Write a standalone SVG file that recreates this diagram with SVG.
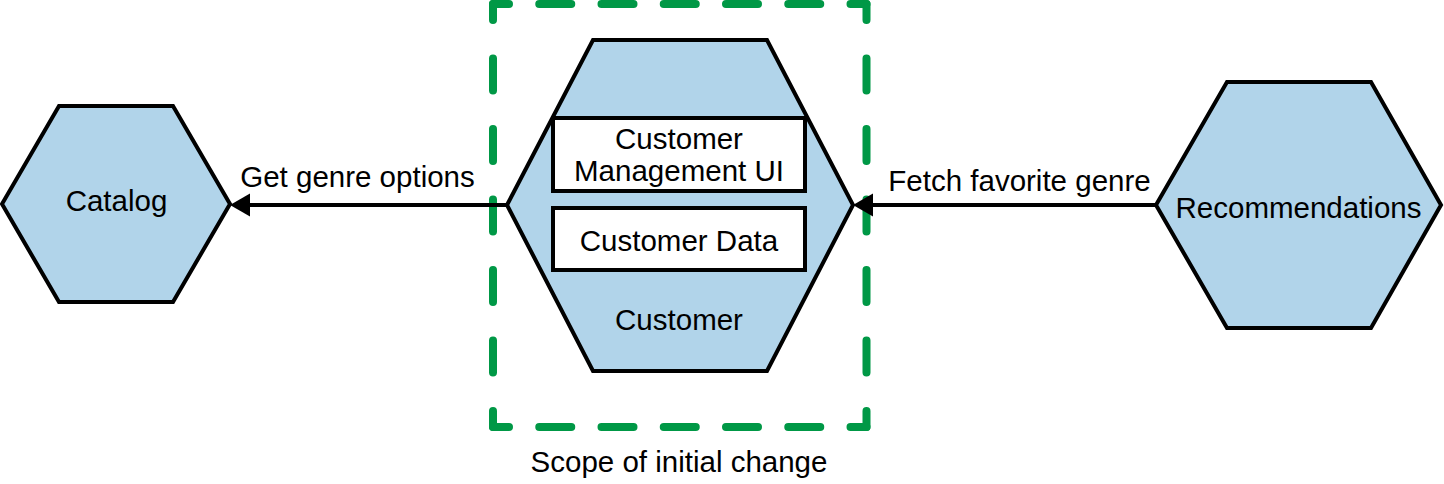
<svg xmlns="http://www.w3.org/2000/svg" width="1444" height="484" viewBox="0 0 1444 484">
<style>
.hex{fill:#b1d4ea;stroke:#000;stroke-width:4;stroke-linejoin:miter}
.box{fill:#fff;stroke:#000;stroke-width:4}
.t{font-family:"Liberation Sans",Arial,sans-serif;font-size:29.5px;fill:#000;text-anchor:middle}
.edge{stroke:#000;stroke-width:4;fill:none}
.scope{stroke:#009846;stroke-width:8;stroke-linecap:round;fill:none;stroke-dasharray:32 30.25;stroke-dashoffset:16}
.scope.v{stroke-dasharray:32 38.5}
</style>
<g id="scope">
<line class="scope" x1="493" y1="4" x2="866.5" y2="4"/>
<line class="scope" x1="493" y1="427" x2="866.5" y2="427"/>
<line class="scope v" x1="493" y1="4" x2="493" y2="427"/>
<line class="scope v" x1="866.5" y1="4" x2="866.5" y2="427"/>
<text class="t" x="679" y="472">Scope of initial change</text>
</g>
<g id="catalog">
<polygon class="hex" points="2,204 59,106 173,106 230,204 173,302 59,302"/>
<text class="t" x="116.5" y="211">Catalog</text>
</g>
<g id="customer">
<polygon class="hex" points="507,205 593,40 767,40 853,205 767,371 593,371"/>
<text class="t" x="679" y="330">Customer</text>
</g>
<g id="customer-management-ui">
<rect class="box" x="553" y="118" width="252" height="73"/>
<text class="t" x="679" y="149">Customer</text>
<text class="t" x="679" y="181">Management UI</text>
</g>
<g id="customer-data">
<rect class="box" x="553" y="208" width="252" height="62"/>
<text class="t" x="679" y="251">Customer Data</text>
</g>
<g id="recommendations">
<polygon class="hex" points="1156,205 1227,82 1371,82 1441,205 1371,328 1227,328"/>
<text class="t" x="1298.5" y="218">Recommendations</text>
</g>
<g id="connectors">
<line class="edge" x1="507" y1="205" x2="250" y2="205"/>
<path d="M230,205 L250,193.5 L250,216.5 Z" fill="#000"/>
<text class="t" x="357.5" y="187">Get genre options</text>
<line class="edge" x1="1156" y1="205" x2="873" y2="205"/>
<path d="M853,205 L873,193.5 L873,216.5 Z" fill="#000"/>
<text class="t" x="1019.5" y="191">Fetch favorite genre</text>
</g>
</svg>
